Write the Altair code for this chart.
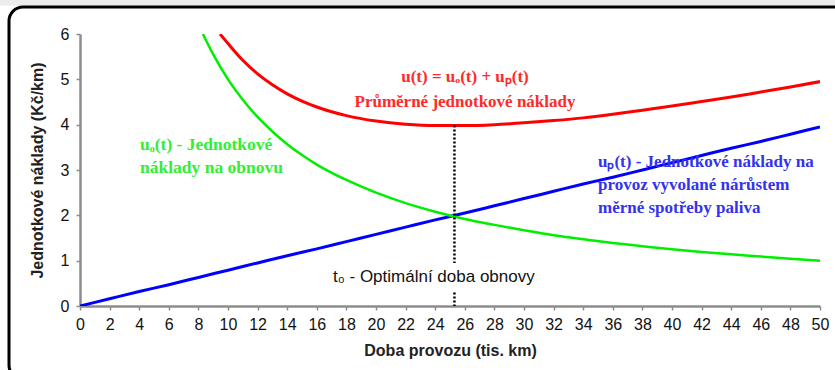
import altair as alt
import pandas as pd

# Mileage (thousand km) and unit costs (Kč/km) for each cost component
green_t = [8.3, 9, 10, 11, 12, 13, 14, 15, 16, 18, 20, 22, 24, 26, 28, 30,
           32, 34, 36, 38, 40, 42, 44, 46, 48, 50]
green_u = [6.0, 5.55, 5.0, 4.55, 4.17, 3.85, 3.57, 3.33, 3.12, 2.78, 2.5, 2.27,
           2.08, 1.92, 1.79, 1.67, 1.56, 1.47, 1.39, 1.32, 1.25, 1.19, 1.14,
           1.09, 1.04, 1.0]

red_t = [9.46, 10, 11, 12, 13, 14, 15, 16, 18, 20, 22, 24, 25, 26, 28, 30,
         32, 34, 36, 38, 40, 42, 44, 46, 48, 50]
red_u = [6.0, 5.79, 5.42, 5.12, 4.88, 4.68, 4.52, 4.39, 4.20, 4.08, 4.01, 3.98,
         3.98, 3.98, 4.0, 4.04, 4.09, 4.15, 4.23, 4.32, 4.41, 4.51, 4.61, 4.72,
         4.83, 4.95]

blue_t = [0, 2, 4, 6, 8, 10, 12, 14, 16, 18, 20, 22, 24, 26, 28, 30, 32, 34,
          36, 38, 40, 42, 44, 46, 48, 50]
blue_u = [0, 0.16, 0.32, 0.47, 0.63, 0.79, 0.95, 1.11, 1.26, 1.42, 1.58, 1.74,
          1.90, 2.05, 2.21, 2.37, 2.53, 2.69, 2.84, 3.00, 3.16, 3.32, 3.48,
          3.63, 3.79, 3.95]

# Optimal renewal point
t0 = 25.3
u_min = 3.98

x_ticks = list(range(0, 51, 2))
y_ticks = [0, 1, 2, 3, 4, 5, 6]

W, H = 740, 272

x_scale = alt.Scale(domain=[0, 50], nice=False, zero=False)
y_scale = alt.Scale(domain=[0, 6], nice=False)

x_axis = alt.Axis(values=x_ticks, title="Doba provozu (tis. km)", grid=False,
                  labelPadding=6, titlePadding=10, labelFlush=False)
y_axis = alt.Axis(values=y_ticks, title="Jednotkové náklady (Kč/km)", grid=False,
                  labelPadding=7, titlePadding=15)


def curve(ts, us, color, width):
    df = pd.DataFrame({"t": ts, "u": us})
    return alt.Chart(df).mark_line(color=color, strokeWidth=width,
                                   interpolate="monotone", clip=True).encode(
        x=alt.X("t:Q", scale=x_scale, axis=x_axis),
        y=alt.Y("u:Q", scale=y_scale, axis=y_axis),
    )


one = pd.DataFrame({"k": [0]})

# Rounded outer frame and the grey strip above it
frame = alt.Chart(one).mark_rect(
    fillOpacity=0, stroke="black", strokeWidth=3, cornerRadius=14
).encode(x=alt.value(-71), x2=alt.value(775), y=alt.value(-27), y2=alt.value(345))

strip = alt.Chart(one).mark_rect(fill="#ececec").encode(
    x=alt.value(-80), x2=alt.value(760), y=alt.value(-34), y2=alt.value(-28.5))

blue = curve(blue_t, blue_u, "#0000ff", 3)
green = curve(green_t, green_u, "#00ee00", 2.5)
red = curve(red_t, red_u, "#ff0000", 3)

# Dotted marker at the optimum, broken around the label
seg = pd.DataFrame({"t": [t0, t0], "y1": [u_min, 0.3], "y2": [0.95, 0.0]})
dotted = alt.Chart(seg).mark_rule(color="black", strokeWidth=2.5,
                                  strokeDash=[2, 2]).encode(
    x=alt.X("t:Q", scale=x_scale, axis=x_axis),
    y=alt.Y("y1:Q", scale=y_scale, axis=y_axis),
    y2="y2:Q",
)


def label(lines, color, px, py, align, font, bold=True, size=17, step=23.5):
    layers = []
    for i, line in enumerate(lines):
        df = pd.DataFrame({"text": [line]})
        layers.append(alt.Chart(df).mark_text(
            color=color, font=font, fontSize=size,
            fontWeight="bold" if bold else "normal",
            align=align, baseline="middle",
        ).encode(
            x=alt.value(px),
            y=alt.value(py + i * step),
            text="text:N",
        ))
    return layers


red_txt = label(["u(t) = uₒ(t) + uₚ(t)", "Průměrné jednotkové náklady"],
                "#ff2a2a", 385, 43, "center", "Liberation Serif", step=25)
green_txt = label(["uₒ(t) - Jednotkové", "náklady na obnovu"],
                  "#33ee33", 60, 111, "left", "Liberation Serif", size=17.5, step=23)
blue_txt = label(["uₚ(t) - Jednotkové náklady na",
                  "provoz vyvolané nárůstem",
                  "měrné spotřeby paliva"],
                 "#3333ee", 518, 128, "left", "Liberation Serif", step=23)
black_txt = label(["t₀ - Optimální doba obnovy"], "#111111", 253, 243, "left",
                  "Liberation Sans", bold=False, size=17)

chart = alt.layer(
    strip, frame, blue, green, red, dotted,
    *red_txt, *green_txt, *blue_txt, *black_txt,
).properties(
    width=W, height=H,
    autosize=alt.AutoSizeParams(type="none"),
    padding={"left": 80, "top": 34, "right": 15, "bottom": 64},
    background="white",
).configure_view(stroke=None).configure_axis(
    domainColor="#8c8c8c", domainWidth=2.5, tickColor="#8c8c8c", tickWidth=1.5,
    tickSize=4, labelFont="Liberation Sans", labelFontSize=16,
    labelColor="#111111", titleFont="Liberation Sans", titleFontSize=16,
    titleColor="#222222", titleFontWeight="bold",
)

chart.save("out.html", embed_options={"renderer": "svg", "actions": False})
